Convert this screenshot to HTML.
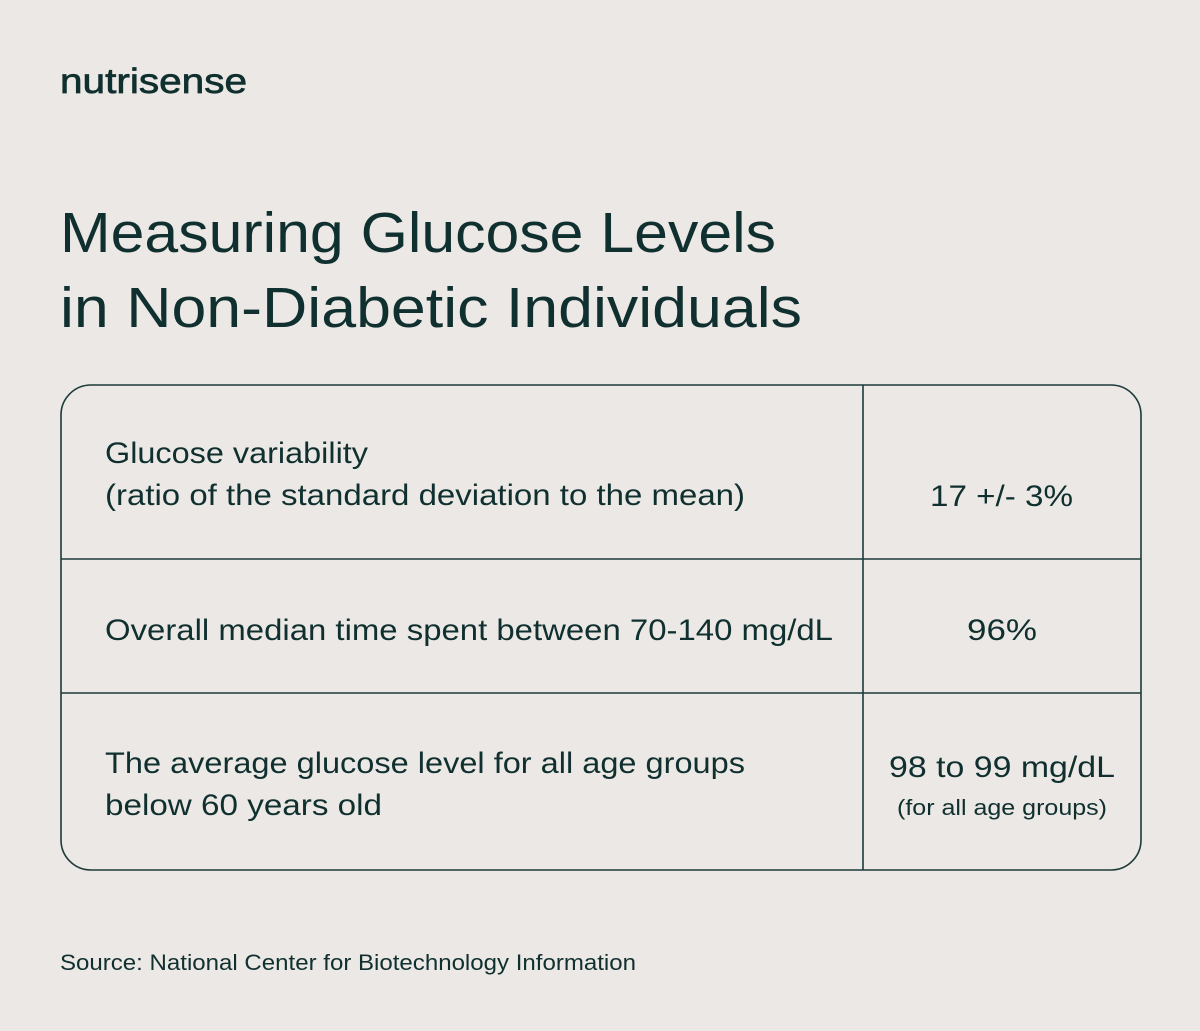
<!DOCTYPE html>
<html><head><meta charset="utf-8"><style>
html,body{margin:0;padding:0;background:#ece8e5;}
svg{display:block;}
text{font-family:"Liberation Sans",sans-serif;fill:#10302f;}
</style></head><body>
<svg width="1200" height="1031" viewBox="0 0 1200 1031">
<rect x="0" y="0" width="1200" height="1031" fill="#ece8e5"/>
<text x="60" y="93" font-size="35" stroke="#10302f" stroke-width="0.7" textLength="187" lengthAdjust="spacingAndGlyphs">nutrisense</text>
<text x="60" y="252" font-size="57" textLength="716" lengthAdjust="spacingAndGlyphs">Measuring Glucose Levels</text>
<text x="60" y="327" font-size="57" textLength="742" lengthAdjust="spacingAndGlyphs">in Non-Diabetic Individuals</text>
<g fill="none" stroke="#1c3a3a" stroke-width="1.6">
<rect x="61" y="385" width="1080" height="485" rx="30" ry="30"/>
<line x1="863" y1="385" x2="863" y2="870"/>
<line x1="61" y1="559" x2="1141" y2="559"/>
<line x1="61" y1="693" x2="1141" y2="693"/>
</g>
<text x="105" y="463" font-size="30" textLength="263" lengthAdjust="spacingAndGlyphs">Glucose variability</text>
<text x="105" y="505" font-size="30" textLength="640" lengthAdjust="spacingAndGlyphs">(ratio of the standard deviation to the mean)</text>
<text x="930" y="506" font-size="30" textLength="143" lengthAdjust="spacingAndGlyphs">17 +/- 3%</text>
<text x="105" y="640" font-size="30" textLength="728" lengthAdjust="spacingAndGlyphs">Overall median time spent between 70-140 mg/dL</text>
<text x="967" y="640" font-size="30" textLength="70" lengthAdjust="spacingAndGlyphs">96%</text>
<text x="105" y="773" font-size="30" textLength="640" lengthAdjust="spacingAndGlyphs">The average glucose level for all age groups</text>
<text x="105" y="815" font-size="30" textLength="277" lengthAdjust="spacingAndGlyphs">below 60 years old</text>
<text x="889" y="777" font-size="30" textLength="226" lengthAdjust="spacingAndGlyphs">98 to 99 mg/dL</text>
<text x="897" y="815" font-size="22" textLength="210" lengthAdjust="spacingAndGlyphs">(for all age groups)</text>
<text x="60" y="970" font-size="22" textLength="576" lengthAdjust="spacingAndGlyphs">Source: National Center for Biotechnology Information</text>
</svg>
</body></html>
